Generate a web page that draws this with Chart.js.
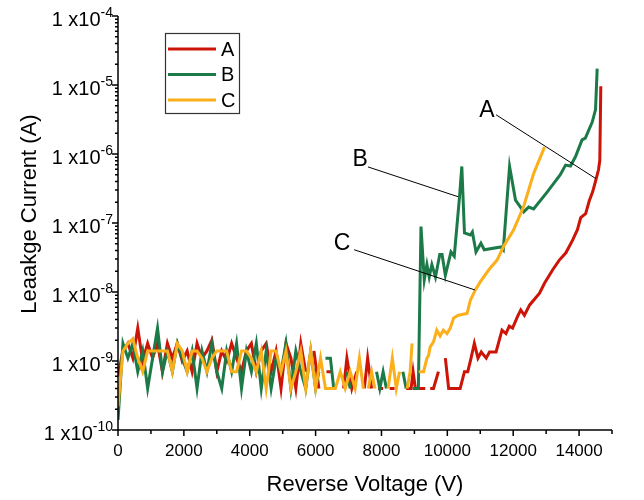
<!DOCTYPE html>
<html>
<head>
<meta charset="utf-8">
<script src="https://cdn.jsdelivr.net/npm/chart.js@4.4.0/dist/chart.umd.min.js"></script>
<style>
    html, body { margin: 0; padding: 0; background: #ffffff; }
</style>
</head>
<body>
<canvas id="chart" width="644" height="500"></canvas>
<script>
// Reverse voltage (V) and leakage current (A) per device. null = no reading (gap in the line).
var aVolts = [
    0, 150, 300, 450, 600, 750, 900, 1050, 1200, 1350, 1500, 1650, 1800, 1950, 2100, 2250, 2400, 2550, 2700, 2850,
    3000, 3150, 3300, 3450, 3600, 3750, 3900, 4050, 4200, 4350, 4500, 4650, 4800, 4950, 5100, 5250, 5400, 5550,
    5700, 5850, 5950, 6100, 6200, 6330, 6480, 6550, 6630, 6700, 6850, 6950, 7100, 7250, 7350, 7480, 7580, 7700, 7780, 7900,
    8050, 8150, 8250, 8400, 8500, 8750, 8900, 8960, 9030, 9330, 9400, 9480, 9580, 9730, 9800, 9940, 10040, 10390, 10520, 10620,
    10720, 10820, 10930, 11030, 11180, 11280, 11480, 11660, 11780, 11880, 11980, 12130, 12230, 12340, 12500, 12800, 12950, 13200, 13400, 13600,
    13800, 13950, 14050, 14200, 14310, 14410, 14510, 14590, 14630, 14660
];
var aAmps = [
    6e-10, 1.4e-9, 1.8e-9, 1.1e-9, 3e-9, 1e-9, 1.8e-9, 1.1e-9, 1.8e-9, 7e-10, 1.8e-9, 1.1e-9, 1.8e-9, 1e-9, 1.4e-9, 7e-10, 1.8e-9, 1.1e-9, 1.4e-9, 2e-9,
    7e-10, 1.4e-9, 1e-9, 1.8e-9, 1.1e-9, 7e-10, 1.4e-9, 1.8e-9, 7e-10, 1.4e-9, 1.8e-9, 7e-10, 1.4e-9, 4e-10, 1.8e-9, 1.1e-9, 4e-10, 1.8e-9,
    7e-10, null, 1.4e-9, 4e-10, null, 7e-10, 7e-10, null, 7e-10, null, 4e-10, 1.1e-9, 4e-10, 7e-10, null, 4e-10, 1.1e-9, 4e-10, null, 4e-10,
    4e-10, null, 4e-10, 4e-10, null, 4e-10, 4e-10, 7e-10, 4e-10, 4e-10, null, 4e-10, 4e-10, 7e-10, null, 1.1e-9, 4e-10, 4e-10, 7e-10, 7e-10,
    1.1e-9, 1.8e-9, 1.1e-9, 1.35e-9, 1.1e-9, 1.35e-9, 1.35e-9, 2.8e-9, 2.5e-9, 3.2e-9, 3e-9, 4.4e-9, 5.5e-9, 4.6e-9, 6.5e-9, 9.6e-9, 1.34e-8, 2.1e-8, 2.9e-8, 3.7e-8,
    5.6e-8, 8e-8, 1.2e-7, 1.37e-7, 2.1e-7, 2.8e-7, 4.2e-7, 5.9e-7, 8.1e-7, 9.6e-6
];

var bVolts = [
    0, 150, 300, 450, 600, 750, 900, 1050, 1200, 1350, 1500, 1650, 1800, 1950, 2100, 2250, 2400, 2550, 2700, 2850,
    3000, 3150, 3300, 3450, 3600, 3750, 3900, 4050, 4200, 4350, 4500, 4650, 4800, 4950, 5100, 5250, 5400, 5550,
    5700, 5850, 6000, 6100, 6200, 6300, 6450, 6550, 6650, 6950, 7050, 7150, 7850, 7950, 8050, 8150, 8250, 8650, 8750, 8850,
    8950, 9120, 9200, 9300, 9380, 9450, 9530, 9640, 9770, 9840, 9940, 10110, 10210, 10370, 10440, 10520, 10700, 10760, 10870, 11020,
    11120, 11630, 11700, 11790, 11890, 12070, 12220, 12320, 12470, 12620, 13030, 13430, 13590, 13740, 13890, 14090, 14190, 14400, 14500, 14550
];
var bAmps = [
    1.4e-10, 1.8e-9, 1.1e-9, 1.8e-9, 7e-10, 1.4e-9, 4e-10, 1.1e-9, 3e-9, 7e-10, 1.4e-9, 7e-10, 1.8e-9, 1.1e-9, 7e-10, 1.4e-9, 4e-10, 1.4e-9, 7e-10, 1.8e-9,
    7e-10, 4e-10, 1.4e-9, 7e-10, 1.8e-9, 4e-10, 1.4e-9, 7e-10, 1.8e-9, 4e-10, 1.4e-9, 4e-10, 1.1e-9, 7e-10, 1.8e-9, 4e-10, 1.4e-9, 7e-10,
    4e-10, 1.4e-9, 4e-10, 7e-10, null, 1.1e-9, 1.1e-9, 4e-10, null, 7e-10, 4e-10, null, 7e-10, 4e-10, 7e-10, 4e-10, null, 7e-10, 4e-10, null,
    4e-10, 4e-10, 8.9e-8, 1.5e-8, 2.5e-8, 1.65e-8, 2.5e-8, 1.65e-8, 3.5e-8, 3.5e-8, 1.75e-8, 3.8e-8, 3.3e-8, 2.4e-7, 6.6e-7, 7.2e-8, 6.7e-8, 7.4e-8, 3.8e-8, 5.1e-8,
    4.1e-8, 4.5e-8, 4.1e-8, 1.55e-7, 6.6e-7, 2.15e-7, 1.7e-7, 1.45e-7, 1.7e-7, 1.6e-7, 2.8e-7, 5e-7, 6.9e-7, 6.7e-7, 9.1e-7, 1.6e-6, 1.7e-6, 2.9e-6, 4.4e-6, 1.73e-5
];

var cVolts = [
    0, 150, 300, 450, 600, 750, 900, 1050, 1200, 1350, 1500, 1650, 1800, 1950, 2100, 2250, 2400, 2550, 2700, 2850,
    3000, 3150, 3300, 3450, 3600, 3750, 3900, 4050, 4200, 4350, 4500, 4650, 4800, 4950, 5100, 5250, 5400, 5550,
    5700, 5850, 6000, 6150, 6300, 6450, 6600, 6750, 6900, 7050, 7200, 7330, 7450, 7520, 7600, 7700, 7800, 7900, 8200, 8330,
    8450, 8550, 8650, 8780, 8870, 8930, 9000, 9130, 9280, 9380, 9430, 9480, 9580, 9680, 9780, 9880, 9990, 10090, 10190, 10340,
    10600, 10700, 10850, 11000, 11260, 11510, 11710, 12010, 12320, 12620, 12950
];
var cAmps = [
    2.2e-10, 1.4e-9, 1.8e-9, 2.1e-9, 1.1e-9, 7e-10, 1.4e-9, 1.4e-9, 1.4e-9, 1.4e-9, 1.4e-9, 7e-10, 1.8e-9, 1.4e-9, 7e-10, 1.4e-9, 1.4e-9, 1.1e-9, 7e-10, 1.1e-9,
    1.4e-9, 1.4e-9, 1.4e-9, 7e-10, 7e-10, 1.4e-9, 1.4e-9, 1.1e-9, 7e-10, 1.4e-9, 4e-10, 1.4e-9, 1.4e-9, 7e-10, 1.4e-9, 4e-10, 7e-10, 1.4e-9,
    4e-10, 1.4e-9, 4e-10, 1.1e-9, 4e-10, 4e-10, 4e-10, 7e-10, 4e-10, 7e-10, 4e-10, 1.1e-9, 4e-10, null, 4e-10, 7e-10, 4e-10, null, 4e-10, 1.1e-9,
    4e-10, 7e-10, null, 4e-10, 7e-10, 1.8e-9, null, 7e-10, 7e-10, 1.1e-9, 1.2e-9, 1.6e-9, 1.9e-9, 2.8e-9, 2.3e-9, 2.8e-9, 2.5e-9, 3e-9, 4.2e-9, 4.6e-9,
    4.9e-9, 7.6e-9, 1.07e-8, 1.4e-8, 2.1e-8, 2.9e-8, 4.6e-8, 7.9e-8, 1.75e-7, 5.2e-7, 1.26e-6
];

var seriesLabels = ['A', 'B', 'C'];
var xMajorTicks = [0, 2000, 4000, 6000, 8000, 10000, 12000, 14000];
var xMinorTicks = [1000, 3000, 5000, 7000, 9000, 11000, 13000, 15000];
var yExponents = [-10, -9, -8, -7, -6, -5, -4];

// Callout letters with their leader lines, in data coordinates.
var callouts = [
    { text: 'A', at: [11200, 4.2e-6], from: [11480, 3.7e-6], to: [14510, 4.4e-7] },
    { text: 'B', at: [7350, 8.2e-7], from: [7590, 6.5e-7], to: [10330, 2.4e-7] },
    { text: 'C', at: [6800, 5e-8], from: [7170, 4.1e-8], to: [10840, 1.07e-8] }
];

var colors = {
    red: '#cc1407',
    green: '#1b7a48',
    orange: '#fbaf1a',
    ink: '#000000'
};
var fontFamily = '"Liberation Sans", Arial, sans-serif';

function points(volts, amps) {
    return volts.map(function (v, i) { return { x: v, y: amps[i] }; });
}

function lineSet(label, volts, amps, color, order) {
    return {
        label: label,
        data: points(volts, amps),
        borderColor: color,
        backgroundColor: color,
        borderWidth: 3,
        pointRadius: 0,
        tension: 0,
        spanGaps: false,
        order: order
    };
}

var originAxes = {
    id: 'originAxes',
    afterDatasetsDraw: function (chart) {
        var ctx = chart.ctx;
        var area = chart.chartArea;
        var xs = chart.scales.x;
        var ys = chart.scales.y;

        ctx.save();
        ctx.strokeStyle = colors.ink;
        ctx.fillStyle = colors.ink;
        ctx.lineWidth = 1.5;

        ctx.beginPath();
        ctx.moveTo(area.left, area.top);
        ctx.lineTo(area.left, area.bottom);
        ctx.lineTo(area.right, area.bottom);
        ctx.stroke();

        // x ticks
        ctx.beginPath();
        xMajorTicks.forEach(function (v) {
            var px = xs.getPixelForValue(v);
            ctx.moveTo(px, area.bottom);
            ctx.lineTo(px, area.bottom + 6);
        });
        xMinorTicks.forEach(function (v) {
            var px = xs.getPixelForValue(v);
            ctx.moveTo(px, area.bottom);
            ctx.lineTo(px, area.bottom + 4);
        });
        // y ticks
        yExponents.forEach(function (e) {
            var py = ys.getPixelForValue(Math.pow(10, e));
            ctx.moveTo(area.left - 6, py);
            ctx.lineTo(area.left, py);
            if (e < -4) {
                for (var k = 2; k <= 9; k++) {
                    var pm = ys.getPixelForValue(k * Math.pow(10, e));
                    ctx.moveTo(area.left - 3, pm);
                    ctx.lineTo(area.left, pm);
                }
            }
        });
        ctx.stroke();

        ctx.font = '17px ' + fontFamily;
        ctx.textAlign = 'center';
        ctx.textBaseline = 'middle';
        xMajorTicks.forEach(function (v) {
            ctx.fillText(String(v), xs.getPixelForValue(v), area.bottom + 21);
        });

        yExponents.forEach(function (e) {
            var py = ys.getPixelForValue(Math.pow(10, e));
            var sup = String(e);
            var right = area.left - 5;
            ctx.font = '14px ' + fontFamily;
            ctx.textAlign = 'right';
            ctx.fillText(sup, right, py - 3);
            var supWidth = ctx.measureText(sup).width;
            ctx.font = '20px ' + fontFamily;
            ctx.fillText('1 x10', right - supWidth, py + 4);
        });

        ctx.font = '22px ' + fontFamily;
        ctx.textAlign = 'center';
        ctx.fillText('Reverse Voltage (V)', (area.left + area.right) / 2, 485);
        ctx.save();
        ctx.translate(30, 214);
        ctx.rotate(-Math.PI / 2);
        ctx.fillText('Leaakge Current (A)', 0, 0);
        ctx.restore();

        // legend box
        ctx.lineWidth = 1.2;
        ctx.strokeStyle = '#333333';
        ctx.strokeRect(165.5, 33.5, 74, 80);
        chart.data.datasets.forEach(function (ds, i) {
            var ly = 49 + i * 25.5;
            ctx.strokeStyle = ds.borderColor;
            ctx.lineWidth = 3;
            ctx.beginPath();
            ctx.moveTo(168, ly);
            ctx.lineTo(216, ly);
            ctx.stroke();
            ctx.fillStyle = colors.ink;
            ctx.font = '20px ' + fontFamily;
            ctx.textAlign = 'left';
            ctx.fillText(ds.label, 221, ly + 1);
        });

        // callouts
        callouts.forEach(function (c) {
            ctx.strokeStyle = colors.ink;
            ctx.lineWidth = 1;
            ctx.beginPath();
            ctx.moveTo(xs.getPixelForValue(c.from[0]), ys.getPixelForValue(c.from[1]));
            ctx.lineTo(xs.getPixelForValue(c.to[0]), ys.getPixelForValue(c.to[1]));
            ctx.stroke();
            ctx.font = '23px ' + fontFamily;
            ctx.textAlign = 'center';
            ctx.fillText(c.text, xs.getPixelForValue(c.at[0]), ys.getPixelForValue(c.at[1]));
        });

        ctx.restore();
    }
};

Chart.defaults.font.family = fontFamily;

new Chart(document.getElementById('chart'), {
    type: 'line',
    data: {
        datasets: [
            lineSet(seriesLabels[0], aVolts, aAmps, colors.red, 3),
            lineSet(seriesLabels[1], bVolts, bAmps, colors.green, 2),
            lineSet(seriesLabels[2], cVolts, cAmps, colors.orange, 1)
        ]
    },
    options: {
        responsive: false,
        animation: false,
        layout: { padding: { left: 118, right: 32, top: 16, bottom: 70 } },
        plugins: { legend: { display: false }, tooltip: { enabled: false } },
        scales: {
            x: { type: 'linear', min: 0, max: 15000, display: false },
            y: { type: 'logarithmic', min: 1e-10, max: 1e-4, display: false }
        }
    },
    plugins: [originAxes]
});
</script>
</body>
</html>
